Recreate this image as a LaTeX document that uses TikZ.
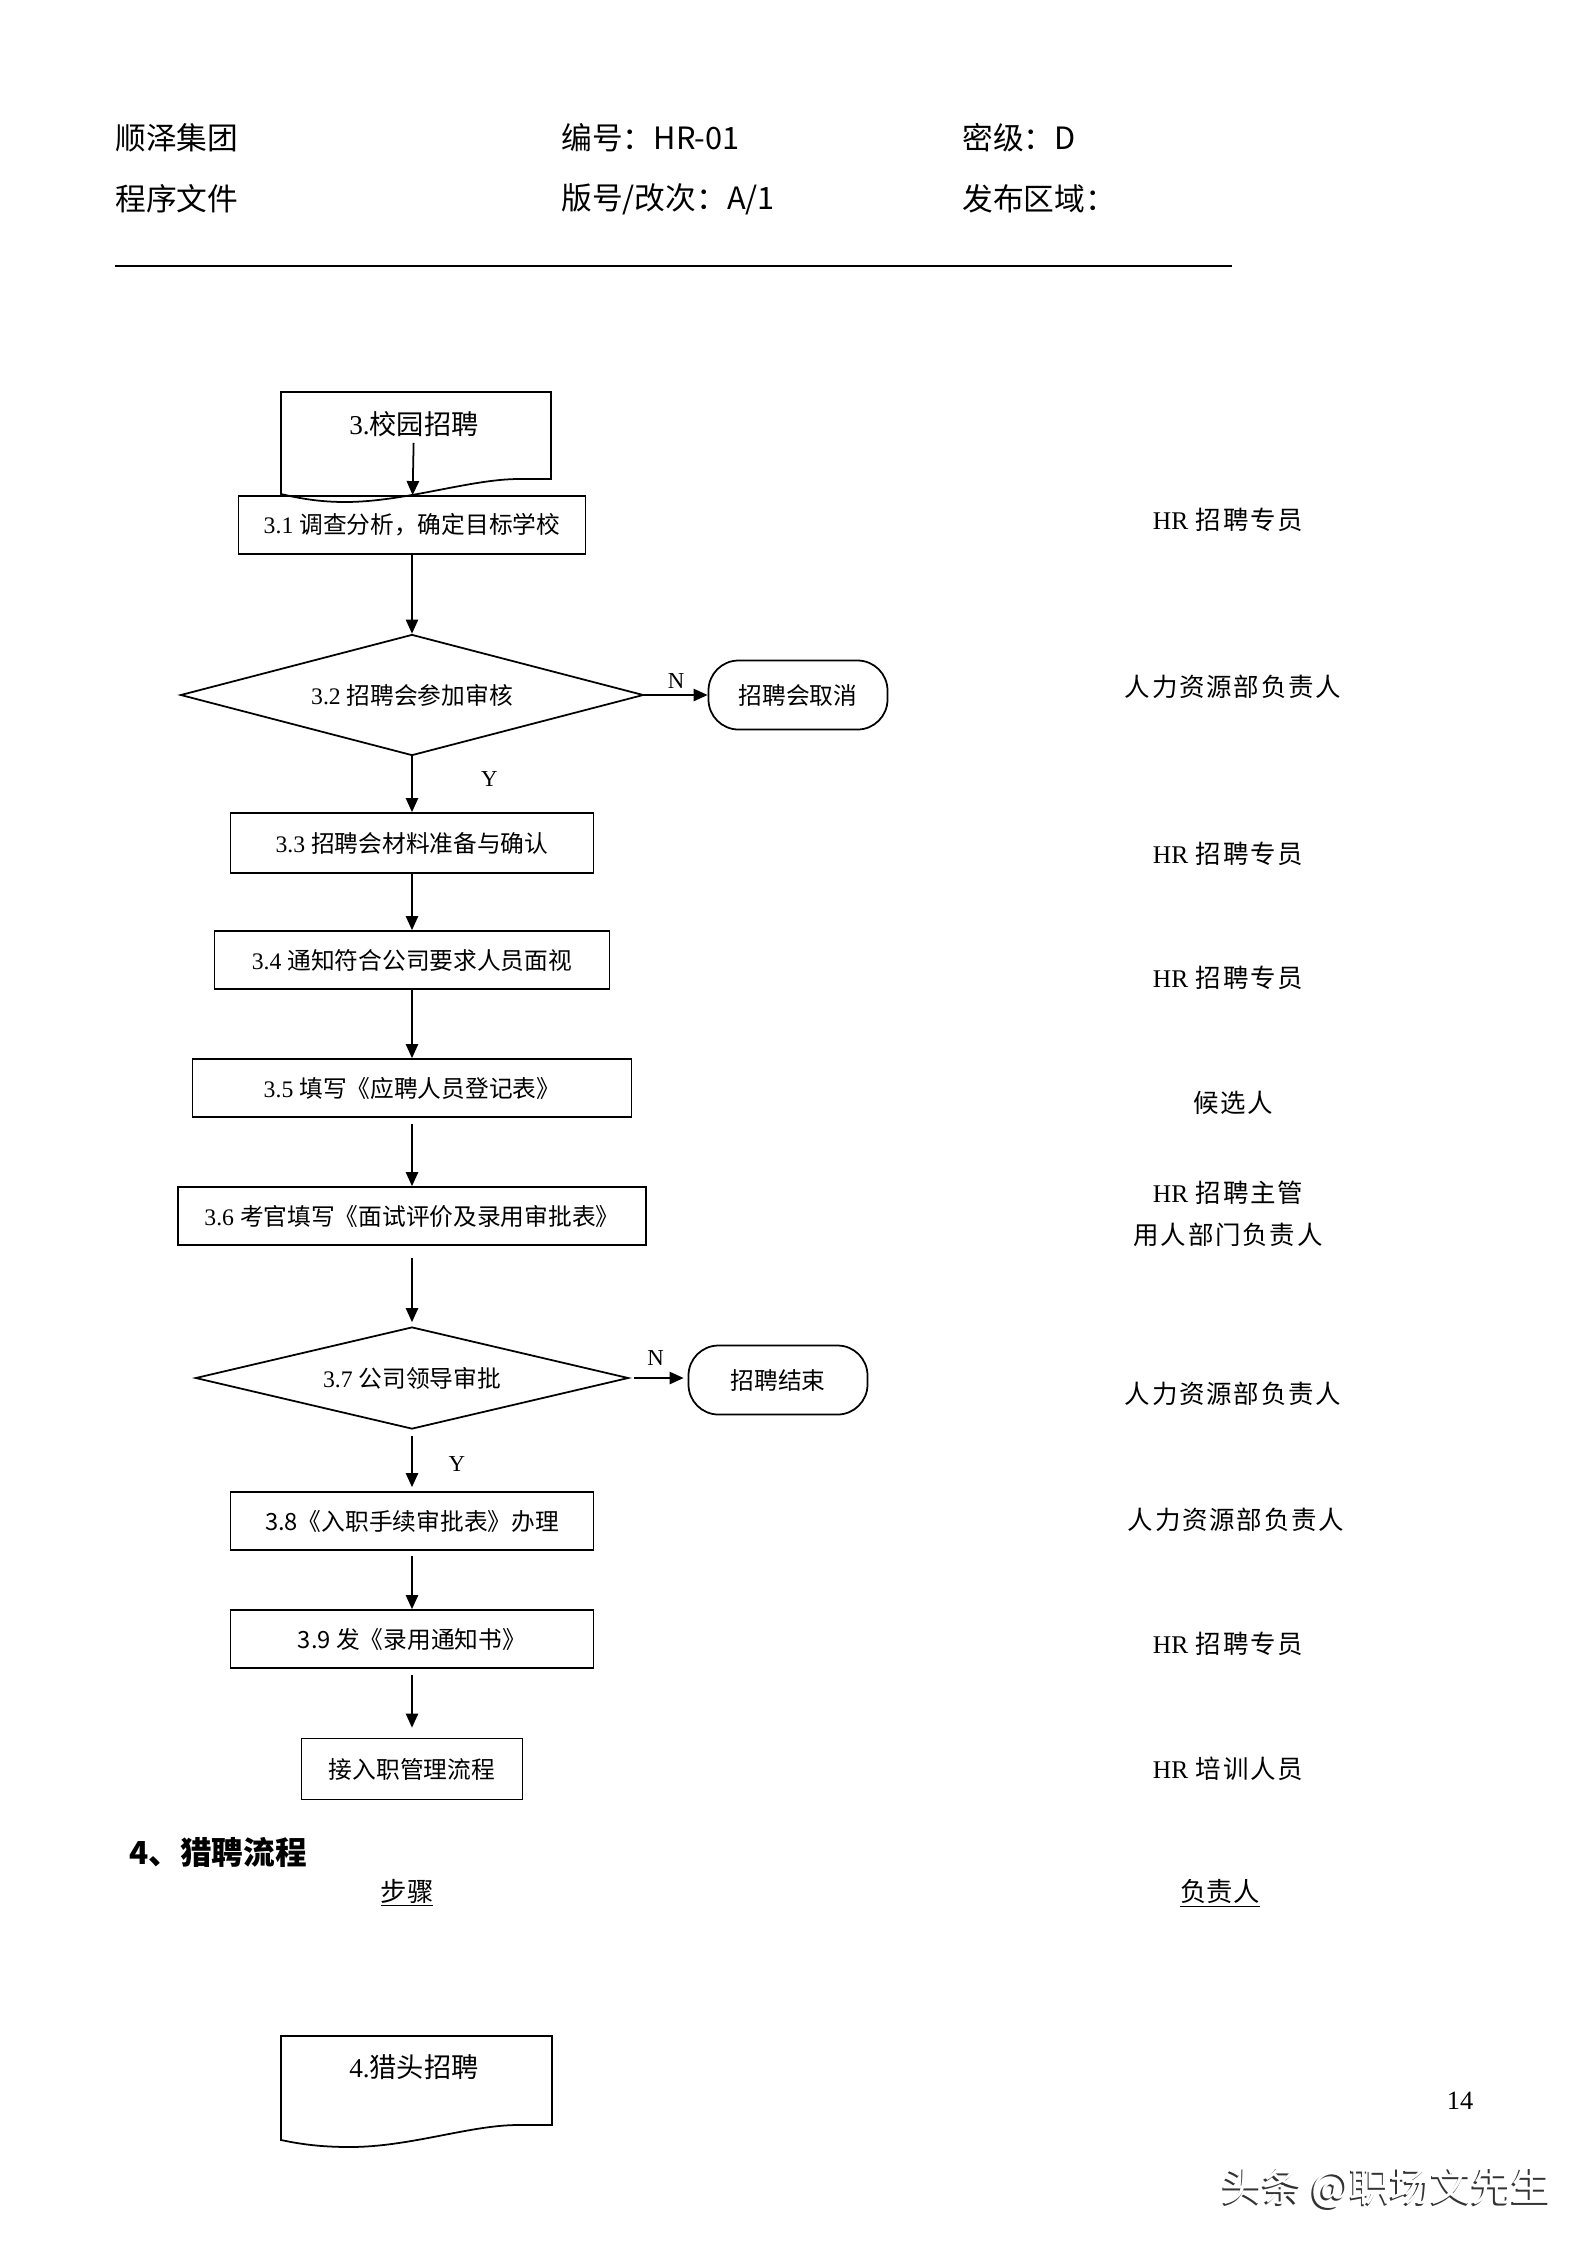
\documentclass[tikz,border=0pt]{standalone}
\usepackage{fontspec}
\setmainfont{Liberation Serif}
\newfontfamily\cjk{Noto Sans CJK SC}
\newfontfamily\cjkwide[LetterSpace=7]{Noto Sans CJK SC}
\usetikzlibrary{arrows.meta}
\usetikzlibrary{shapes.geometric}

\begin{document}
\begin{tikzpicture}[y=-1cm,
	head/.style={anchor=west, inner sep=0pt, font=\cjk\fontsize{17.5}{20}\selectfont},
	stepbox/.style={draw, line width=1pt, inner sep=0pt, font=\fontsize{13.5}{16}\selectfont},
	decision/.style={draw, diamond, aspect=3.8, line width=1pt, inner sep=0pt, font=\fontsize{13.5}{16}\selectfont},
	terminal/.style={draw, rounded corners=0.6cm, line width=1pt, minimum width=3.58cm, minimum height=1.38cm, font=\cjk\fontsize{13.5}{16}\selectfont},
	arr/.style={-{Triangle[length=8pt,width=7pt]}, line width=1pt},
	yn/.style={font=\fontsize{13}{15}\selectfont},
	resp/.style={font=\cjkwide\fontsize{14.5}{24}\selectfont, align=center}]
	\useasboundingbox (0,0) rectangle (31.74,44.9);

	% header
	\node[head] (company) at (2.30,2.75)  {顺泽集团};
	\node[head] (docno)   at (11.22,2.75) {编号：HR-01};
	\node[head] (secret)  at (19.24,2.75) {密级：D};
	\node[head] (doctype) at (2.30,3.98)  {程序文件};
	\node[head] (version) at (11.22,3.98) {版号/改次：A/1};
	\node[head] (area)    at (19.24,3.98) {发布区域：};
	\coordinate (ruleL) at (2.30,5.32);
	\coordinate (ruleR) at (24.64,5.32);
	\draw[line width=0.6pt] (ruleL) -- (ruleR);

	% 3. campus recruiting
	\draw[line width=1pt] (5.62,7.84) -- (11.02,7.84) -- (11.02,9.58) -- (10.38,9.58)
		.. controls (9.4,9.58) and (8.1,10.04) .. (6.9,10.04)
		.. controls (6.4,10.04) and (6.0,9.97) .. (5.62,9.88) -- cycle;
	\node[font=\fontsize{15.5}{18}\selectfont] (campus) at (8.28,8.48) {3.{\cjk 校园招聘}};

	\node[stepbox, minimum width=6.94cm, minimum height=1.16cm] (s31) at (8.24,10.50) {3.1 {\cjk 调查分析，确定目标学校}};
	\node[decision, minimum width=9.26cm, minimum height=2.42cm] (s32) at (8.24,13.90) {3.2 {\cjk 招聘会参加审核}};
	\node[terminal] (cancel) at (15.96,13.90) {招聘会取消};
	\node[stepbox, minimum width=7.26cm, minimum height=1.20cm] (s33) at (8.24,16.86) {3.3 {\cjk 招聘会材料准备与确认}};
	\node[stepbox, minimum width=7.90cm, minimum height=1.16cm] (s34) at (8.24,19.20) {3.4 {\cjk 通知符合公司要求人员面视}};
	\node[stepbox, minimum width=8.78cm, minimum height=1.16cm] (s35) at (8.24,21.76) {3.5 {\cjk 填写《应聘人员登记表》}};
	\node[stepbox, minimum width=9.36cm, minimum height=1.16cm] (s36) at (8.24,24.32) {3.6 {\cjk 考官填写《面试评价及录用审批表》}};
	\node[decision, minimum width=8.66cm, minimum height=2.04cm] (s37) at (8.24,27.56) {3.7 {\cjk 公司领导审批}};
	\node[terminal] (finish) at (15.56,27.60) {招聘结束};
	\node[stepbox, minimum width=7.26cm, minimum height=1.16cm, font=\cjk\fontsize{13.5}{16}\selectfont] (s38) at (8.24,30.42) {3.8《入职手续审批表》办理};
	\node[stepbox, minimum width=7.26cm, minimum height=1.16cm, font=\cjk\fontsize{13.5}{16}\selectfont] (s39) at (8.24,32.78) {3.9 发《录用通知书》};
	\node[stepbox, minimum width=4.42cm, minimum height=1.22cm, font=\cjk\fontsize{13.5}{16}\selectfont] (onboard) at (8.24,35.38) {接入职管理流程};

	\draw[arr] (campus) -- (s31);
	\draw[arr] (s31) -- (s32);
	\draw[arr] (s32) -- (cancel) node[yn, above, pos=.5] {N};
	\draw[arr] (s32) -- (s33) node[yn, right=1.25cm, pos=.41] {Y};
	\draw[arr] (s33) -- (s34);
	\draw[arr] (s34) -- (s35);
	\draw[arr, shorten <=0.12cm] (s35) -- (s36);
	\draw[arr, shorten <=0.24cm, shorten >=0.08cm] (s36) -- (s37);
	\draw[arr, shorten <=0.1cm, shorten >=0.08cm] (s37.east) -- (s37.east -| finish.west) node[yn, above=0.12cm, pos=.45] {N};
	\draw[arr, shorten <=0.12cm, shorten >=0.08cm] (s37) -- (s38) node[yn, right=0.6cm, pos=.56] {Y};
	\draw[arr, shorten <=0.1cm] (s38) -- (s39);
	\draw[arr, shorten <=0.12cm, shorten >=0.2cm] (s39) -- (onboard);

	% who is responsible
	\node[resp] (r31)  at (24.56,10.40) {{\rmfamily HR} 招聘专员};
	\node[resp] (r32)  at (24.66,13.74) {人力资源部负责人};
	\node[resp] (r33)  at (24.56,17.08) {{\rmfamily HR} 招聘专员};
	\node[resp] (r34)  at (24.56,19.56) {{\rmfamily HR} 招聘专员};
	\node[resp] (r35)  at (24.66,22.06) {候选人};
	\node[resp] (r36)  at (24.56,24.28) {{\rmfamily HR} 招聘主管\\用人部门负责人};
	\node[resp] (r37)  at (24.66,27.88) {人力资源部负责人};
	\node[resp] (r38)  at (24.72,30.40) {人力资源部负责人};
	\node[resp] (r39)  at (24.56,32.88) {{\rmfamily HR} 招聘专员};
	\node[resp] (r310) at (24.56,35.38) {{\rmfamily HR} 培训人员};

	% 4. headhunting
	\node[anchor=west, inner sep=0pt, font=\cjk\bfseries\fontsize{18}{20}\selectfont] (sec4) at (2.58,37.04) {4、猎聘流程};
	\node[font=\cjk\fontsize{15}{16}\selectfont] (colstep) at (8.14,37.86) {\underline{步骤}};
	\node[font=\cjk\fontsize{15}{16}\selectfont] (colresp) at (24.40,37.86) {\underline{负责人}};

	\draw[line width=1pt] (5.62,40.72) -- (11.04,40.72) -- (11.04,42.50) -- (10.36,42.50)
		.. controls (9.4,42.50) and (8.2,42.94) .. (7.0,42.94)
		.. controls (6.4,42.94) and (6.0,42.88) .. (5.62,42.80) -- cycle;
	\node[font=\fontsize{15.5}{18}\selectfont] (headhunt) at (8.28,41.34) {4.{\cjk 猎头招聘}};

	\node[font=\fontsize{15}{18}\selectfont] (pageno) at (29.20,42.02) {14};
	\node[font=\cjk\fontsize{23}{26}\selectfont] (mark) at (27.74,43.78)
		{\rlap{\hspace{-1pt}\raisebox{-1pt}{\color{black!80}头条 @职场文先生}}\color{white}头条 @职场文先生};
\end{tikzpicture}
\end{document}
